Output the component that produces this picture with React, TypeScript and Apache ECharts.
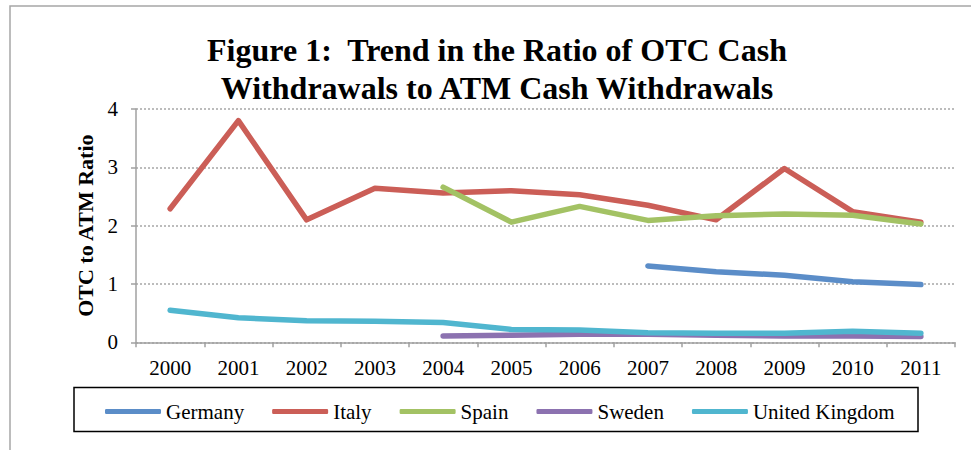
import React, { useEffect, useRef } from "react";
import * as echarts from "echarts";

const years = ["2000", "2001", "2002", "2003", "2004", "2005", "2006", "2007", "2008", "2009", "2010", "2011"];
const germany = [null, null, null, null, null, null, null, 1.31, 1.21, 1.15, 1.04, 0.99];
const italy = [2.29, 3.8, 2.1, 2.64, 2.56, 2.6, 2.53, 2.35, 2.1, 2.98, 2.24, 2.06];
const spain = [null, null, null, null, 2.66, 2.06, 2.33, 2.09, 2.17, 2.2, 2.18, 2.03];
const sweden = [null, null, null, null, 0.11, 0.12, 0.14, 0.14, 0.12, 0.11, 0.11, 0.1];
const uk = [0.55, 0.42, 0.37, 0.36, 0.34, 0.22, 0.21, 0.165, 0.155, 0.155, 0.19, 0.155];
const yTicks = [0, 1, 2, 3, 4];

const seriesDefs = [
  { name: "Germany", data: germany, color: "#5B8DC8" },
  { name: "Italy", data: italy, color: "#CB5E57" },
  { name: "Spain", data: spain, color: "#A3C264" },
  { name: "Sweden", data: sweden, color: "#8C72B0" },
  { name: "United Kingdom", data: uk, color: "#50B6CF" },
];

const SERIF = "'Liberation Serif', 'Times New Roman', serif";

export default function App() {
  const ref = useRef<HTMLDivElement>(null);
  useEffect(() => {
    document.body.style.margin = "0";
    if (!ref.current) return;
    const chart = echarts.init(ref.current, null, { renderer: "svg" });
    chart.setOption({
      animation: false,
      backgroundColor: "#ffffff",
      textStyle: { fontFamily: SERIF },
      graphic: [
        {
          type: "rect",
          shape: { x: 10, y: 6, width: 1000, height: 600 },
          style: { fill: "none", stroke: "#A6A6A6", lineWidth: 1.5 },
          silent: true,
        },
        {
          type: "rect",
          shape: { x: 74, y: 387.5, width: 844, height: 44 },
          style: { fill: "none", stroke: "#000000", lineWidth: 1.5 },
          silent: true,
        },
        {
          type: "text",
          x: 497,
          y: 50,
          style: {
            text: "Figure 1:  Trend in the Ratio of OTC Cash",
            textAlign: "center",
            textVerticalAlign: "middle",
            font: `bold 32px ${SERIF}`,
            fill: "#000",
          },
        },
        {
          type: "text",
          x: 497,
          y: 88,
          style: {
            text: "Withdrawals to ATM Cash Withdrawals",
            textAlign: "center",
            textVerticalAlign: "middle",
            font: `bold 32px ${SERIF}`,
            fill: "#000",
          },
        },
      ],
      legend: {
        left: 100,
        top: 396,
        itemWidth: 56,
        itemHeight: 5,
        itemGap: 28,
        icon: "roundRect",
        textStyle: { fontFamily: SERIF, fontSize: 21, color: "#000" },
        data: seriesDefs.map((s) => s.name),
      },
      grid: { left: 136, top: 109, width: 819, height: 233.3, containLabel: false },
      xAxis: {
        type: "category",
        data: years,
        boundaryGap: true,
        axisLine: { lineStyle: { color: "#A0A0A0", width: 1.5 } },
        axisTick: { show: true, length: 5, inside: false, lineStyle: { color: "#A0A0A0", width: 1.5 } },
        axisLabel: { fontFamily: SERIF, fontSize: 21, color: "#000", margin: 15 },
        splitLine: { show: false },
      },
      yAxis: {
        type: "value",
        min: yTicks[0],
        max: yTicks[yTicks.length - 1],
        interval: 1,
        name: "OTC to ATM Ratio",
        nameLocation: "middle",
        nameRotate: 90,
        nameGap: 37,
        nameTextStyle: { fontFamily: SERIF, fontSize: 22, fontWeight: "bold", color: "#000" },
        axisLine: { show: true, lineStyle: { color: "#A0A0A0", width: 1.5 } },
        axisTick: { show: true, length: 5, lineStyle: { color: "#A0A0A0", width: 1.5 } },
        axisLabel: { fontFamily: SERIF, fontSize: 21, color: "#000", margin: 18 },
        splitLine: { show: true, lineStyle: { color: "#A6A6A6", width: 1.5, type: [2, 2] } },
      },
      series: seriesDefs.map((s) => ({
        name: s.name,
        type: "line",
        data: s.data,
        showSymbol: false,
        symbol: "none",
        connectNulls: false,
        color: s.color,
        lineStyle: { color: s.color, width: 5.5, cap: "round", join: "round" },
        itemStyle: { color: s.color },
      })),
    });
    return () => chart.dispose();
  }, []);
  return <div ref={ref} style={{ width: 971, height: 450 }} />;
}
